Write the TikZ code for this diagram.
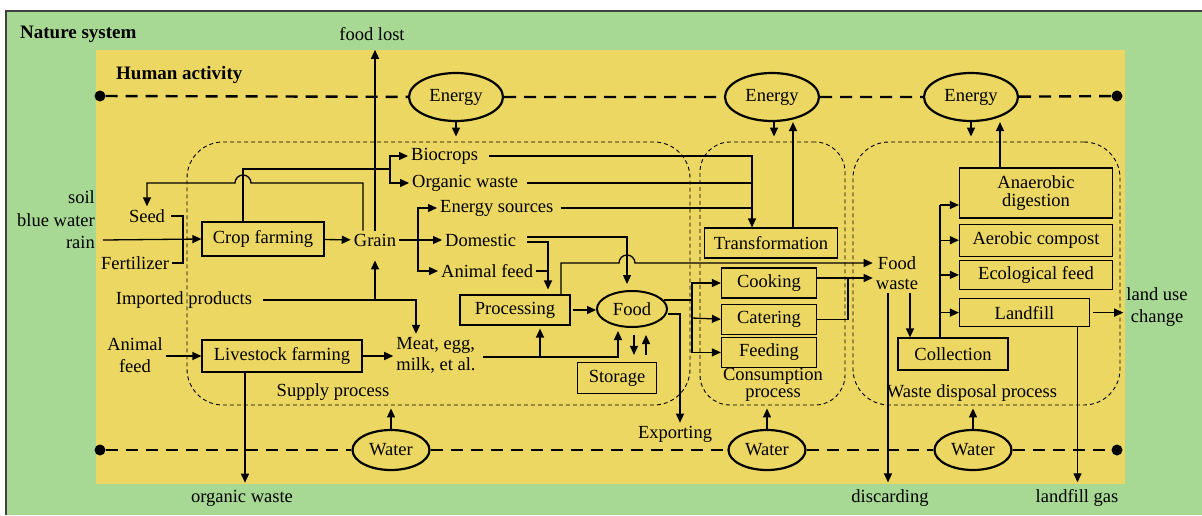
\documentclass[tikz,border=0pt]{standalone}
\usepackage{fontspec}
\setmainfont{Liberation Serif}
\usepackage{tikz}
\usetikzlibrary{positioning,shapes.geometric,arrows.meta}
\definecolor{naturegreen}{RGB}{168,217,148}
\definecolor{humanyellow}{RGB}{236,215,98}
\tikzset{
  link/.style={line width=1.3pt,draw=black},
  flow/.style={link,-{Triangle[length=9pt,width=8pt]}},
  block/.style={shape=rectangle,draw=black,line width=1.2pt,minimum height=30pt,inner sep=2pt},
  source/.style={shape=ellipse,draw=black,line width=2.2pt,inner sep=0pt},
  vertex/.style={shape=circle,fill=black,inner sep=0pt,minimum size=11pt},
  dashline/.style={line width=2.4pt,draw=black,dash pattern=on 12pt off 8pt},
  region/.style={shape=rectangle,draw=black,line width=0.9pt,dash pattern=on 4pt off 3pt,rounded corners=36pt,minimum height=263pt},
  heading/.style={anchor=west,font=\fontsize{19}{21}\selectfont\bfseries}
}
\begin{document}
\begin{tikzpicture}[x=1pt,y=-1pt,inner sep=3pt,font=\fontsize{18.5}{20}\selectfont]
      \useasboundingbox (0,0) rectangle (1202,515);
      \fill[white] (0,0) rectangle (1202,515);
      \fill[naturegreen] (6,11) rectangle (1202,515);
      \draw[line width=2pt,black!75] (6,515) -- (6,11) -- (1202,11);
      \fill[humanyellow] (96,50) rectangle (1125,484);
      \node[heading] (nature) at (17,34) {Nature system};
      \node[heading] (human) at (113,75) {Human activity};
      \node[region,minimum width=503pt] (supply) at (438.5,273.5) {};
      \node[region,minimum width=145pt,rounded corners=30pt] (cons) at (772.5,273.5) {};
      \node[region,minimum width=267pt] (wbox) at (986.5,273.5) {};
      \node (supplylab) at (333,392) {Supply process};
      \node[align=center,font=\fontsize{18.5}{17}\selectfont] (conslab) at (773,385) {Consumption\\process};
      \node (wastelab) at (972,393) {Waste disposal process};
      \node[vertex] (el) at (100,96) {};
      \node[vertex] (er) at (1117,96) {};
      \node[vertex] (wl) at (100,450) {};
      \node[vertex] (wr) at (1117,450) {};
      \node[source,minimum width=94pt,minimum height=48pt] (e1) at (456,97) {Energy};
      \node[source,minimum width=94pt,minimum height=48pt] (e2) at (772,97) {Energy};
      \node[source,minimum width=94pt,minimum height=48pt] (e3) at (971,97) {Energy};
      \node[source,minimum width=77pt,minimum height=40pt] (w1) at (391,450) {Water};
      \node[source,minimum width=77pt,minimum height=40pt] (w2) at (767,450) {Water};
      \node[source,minimum width=77pt,minimum height=40pt] (w3) at (973,450) {Water};
      \draw[dashline] (el) -- (e1) -- (e2) -- (e3) -- (er);
      \draw[dashline] (wl) -- (w1) -- (w2) -- (w3) -- (wr);
      \node (lost) at (372,34) {food lost};
      \node[align=right,anchor=east,font=\fontsize{18.5}{22.5}\selectfont] (inputs) at (98,220) {soil\\blue water\\rain};
      \node (seed) at (147,216) {Seed};
      \node (fert) at (135,263) {Fertilizer};
      \node[block,minimum width=122pt,minimum height=34pt] (crop) at (263,239) {Crop farming};
      \node (grain) at (375,240) {Grain};
      \node[anchor=west] (bio) at (408,156) {Biocrops};
      \node[anchor=west] (orgw) at (409,183) {Organic waste};
      \node[anchor=west] (ensrc) at (437,208) {Energy sources};
      \node[anchor=west] (dom) at (442,240) {Domestic};
      \node[anchor=west] (afeed) at (438,271) {Animal feed};
      \node (imp) at (184,300) {Imported products};
      \node[align=center,font=\fontsize{18.5}{22}\selectfont] (anfeed) at (135,355) {Animal\\feed};
      \node[block,minimum width=160pt,minimum height=32pt] (live) at (282,356) {Livestock farming};
      \node[align=left,font=\fontsize{18.5}{21}\selectfont] (meat) at (436,355) {Meat, egg,\\milk, et al.};
      \node[block,minimum width=110pt] (proc) at (515,310) {Processing};
      \node[source,line width=2pt,minimum width=70pt,minimum height=36pt] (food) at (632,309) {Food};
      \node[block,minimum width=79pt,minimum height=31pt] (stor) at (617,378) {Storage};
      \node (exp) at (675,434) {Exporting};
      \node (orgout) at (242,498) {organic waste};
      \node[block,minimum width=133pt] (trans) at (771,243) {Transformation};
      \node[block,minimum width=95pt] (cook) at (769,283) {Cooking};
      \node[block,minimum width=95pt,below=5pt of cook] (cater) {Catering};
      \node[block,minimum width=95pt,below=2pt of cater] (feedg) {Feeding};
      \node[align=center] (fwaste) at (897,273) {Food\\waste};
      \node[block,minimum width=110pt,minimum height=32pt] (coll) at (953,354) {Collection};
      \node[block,minimum width=153pt,minimum height=50pt,align=center,font=\fontsize{18.5}{18}\selectfont] (anaer) at (1036,193) {Anaerobic\\digestion};
      \node[block,minimum width=153pt,minimum height=32pt,below=5pt of anaer] (aero) {Aerobic compost};
      \node[block,minimum width=153pt,minimum height=29pt,below=3pt of aero] (eco) {Ecological feed};
      \node[block,minimum width=130pt,minimum height=28pt,anchor=north west] (landf) at ([yshift=-8pt]eco.south west) {Landfill};
      \node[align=center,font=\fontsize{18.5}{22}\selectfont] (landuse) at (1157,307) {land use\\change};
      \node (disc) at (890,498) {discarding};
      \node (lgas) at (1077,498) {landfill gas};
      \coordinate (rainin) at (103,240);
      \coordinate (mix) at (183,240);
      \coordinate (cropsplit) at (390,169);
      \coordinate (grainsplit) at (418,240);
      \coordinate (transin) at ([xshift=-19pt]trans.north);
      \coordinate (foodsplit) at (692,318);
      \coordinate (collsplit) at (940,205);
      \draw[flow] (rainin) -- (crop.west);
      \draw[link,shorten <=3pt] (seed.east) -| (mix);
      \draw[link] (fert.east) -| (mix);
      \draw[flow] (crop) -- (grain);
      \draw[link] ([xshift=-20pt]crop.north) |- (cropsplit);
      \draw[flow] (cropsplit) |- (bio.west);
      \draw[flow] (cropsplit) |- (orgw.west);
      \draw[flow] ([xshift=-12pt]grain.north) |- (251,183) arc[start angle=0,end angle=-180,radius=8] -| (seed.north);
      \draw[flow,shorten >=6pt] (grain.north) -- (grain.north |- lost.south);
      \draw[flow,shorten <=8pt] (imp.east) -| ([xshift=-20pt]meat.north);
      \draw[flow,shorten >=11pt] (grain.south |- imp.east) -- (grain.south);
      \draw[flow] (anfeed.east |- live.west) -- (live.west);
      \draw[flow] (live.east) -- (live.east -| meat.west);
      \draw[flow,shorten >=4pt] ([xshift=-37pt]live.south) -- ([xshift=-37pt]live.south |- orgout.north);
      \draw[link] (grain.east) -- (grainsplit);
      \draw[flow] (grainsplit) |- (ensrc.west);
      \draw[flow] (grainsplit) |- (afeed.west);
      \draw[flow] (grainsplit) -- (dom.west);
      \draw[flow,shorten <=8pt] (bio.east) -| (transin);
      \draw[link,shorten <=6pt] (orgw.east) -- (orgw.east -| transin);
      \draw[link,shorten <=4pt] (ensrc.east) -- (ensrc.east -| transin);
      \draw[flow] ([xshift=22pt]trans.north) -- ([xshift=22pt]trans.north |- e2.south);
      \draw[flow,shorten >=5pt] (e1) -- (e1 |- supply.north);
      \draw[flow,shorten >=5pt] ([xshift=2pt]e2.south) -- ([xshift=2pt]e2.south |- cons.north);
      \draw[flow,shorten >=5pt] (e3) -- (e3 |- wbox.north);
      \draw[flow] ([xshift=-36pt]anaer.north) -- ([xshift=-36pt]anaer.north |- e3.south);
      \draw[flow,shorten >=3pt] (w1) -- (w1 |- supply.south);
      \draw[flow,shorten >=3pt] (w2) -- (w2 |- cons.south);
      \draw[flow,shorten >=3pt] (w3) -- (w3 |- wbox.south);
      \draw[flow,shorten <=4pt,shorten >=3pt] ([yshift=-2pt]meat.east) -| ([xshift=-14pt]food.south);
      \draw[flow,shorten >=3pt] ([xshift=25pt,yshift=-2pt]proc.south |- meat.east) -- ([xshift=25pt]proc.south);
      \draw[flow,shorten <=8pt,shorten >=6pt] ([yshift=3pt]dom.east) -| ([xshift=-5pt]food.north);
      \draw[flow,shorten <=8pt,shorten >=5pt] ([yshift=-2pt]dom.east) -| ([xshift=33pt]proc.north);
      \draw[link] (afeed.east) -- ([xshift=33pt]proc.north |- afeed.east);
      \draw[flow] ([xshift=46pt]proc.north) |- (619,263) arc[start angle=180,end angle=360,radius=8] -- ([yshift=10pt]fwaste.west);
      \draw[flow,shorten <=2pt] (proc.east) -- (proc.east -| food.west);
      \draw[flow,shorten <=7pt,shorten >=7pt] ([xshift=2pt]food.south) -- ([xshift=2pt]food.south |- stor.north);
      \draw[flow,shorten <=7pt,shorten >=7pt] ([xshift=14pt]food.south |- stor.north) -- ([xshift=14pt]food.south);
      \draw[link] ([xshift=-4pt,yshift=9pt]food.east) -- ([yshift=9pt]food.east -| foodsplit);
      \draw[flow] (foodsplit) |- (cook.west);
      \draw[flow] (foodsplit) -- (cater.west);
      \draw[flow] (foodsplit) |- (feedg.west);
      \draw[flow] ([yshift=-5pt]food.east) -| ([xshift=5pt]exp.north);
      \draw[flow] ([yshift=5pt]cook.east) -- ([yshift=5pt]cook.east -| fwaste.west);
      \draw[link] (cater.east) -| ([xshift=31pt,yshift=5pt]cook.east);
      \draw[flow,shorten >=4pt] ([xshift=-9pt]fwaste.south) -- ([xshift=-9pt]fwaste.south |- disc.north);
      \draw[flow] ([xshift=13pt]fwaste.south) -- ([xshift=13pt]fwaste.south |- coll.north);
      \draw[link] ([xshift=-13pt]coll.north) -- (collsplit);
      \draw[flow] (collsplit) -- (collsplit -| anaer.west);
      \draw[flow] (collsplit |- aero.west) -- (aero.west);
      \draw[flow] (collsplit |- eco.west) -- (eco.west);
      \draw[flow] (collsplit |- landf.west) -- (landf.west);
      \draw[flow,shorten <=3pt] (landf.east) -- (landf.east -| landuse.west);
      \draw[flow,shorten >=4pt] ([xshift=53pt]landf.south) -- ([xshift=53pt]landf.south |- lgas.north);
    \end{tikzpicture}
\end{document}
